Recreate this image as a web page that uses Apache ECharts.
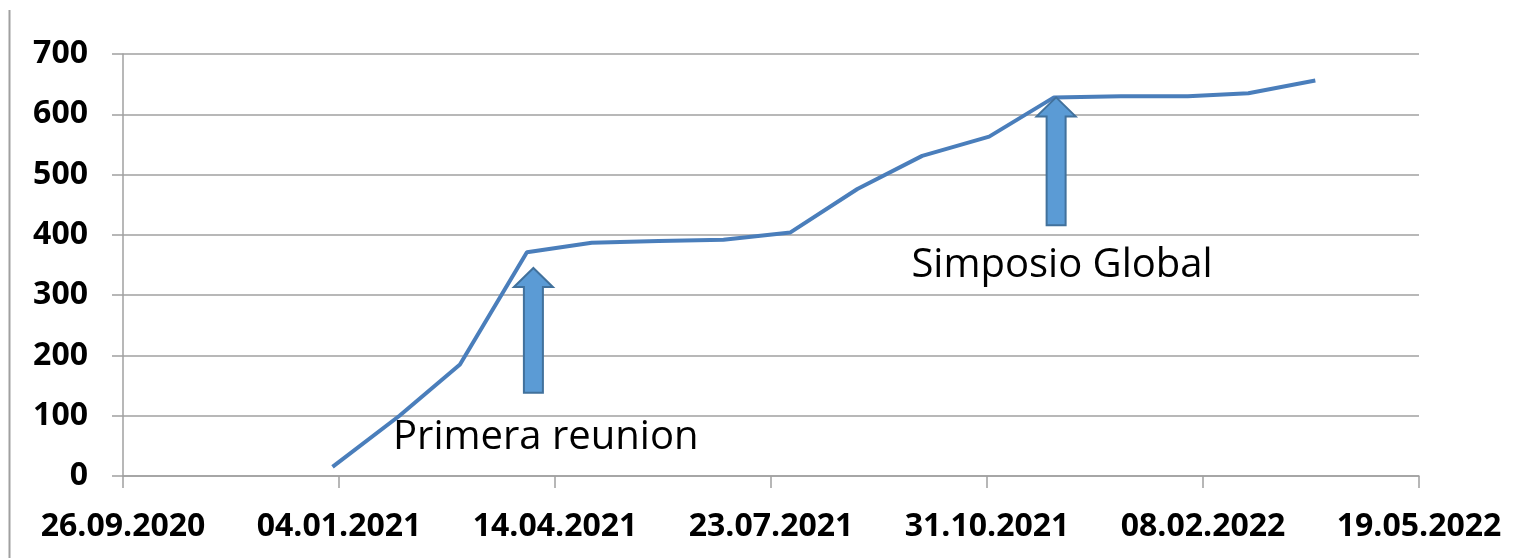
<!DOCTYPE html>
<html>
<head>
<meta charset="utf-8">
<script src="https://cdn.jsdelivr.net/npm/echarts@6/dist/echarts.min.js"></script>
<style>
html,body{margin:0;padding:0;background:#fff;}
#chart{width:1516px;height:558px;}
</style>
</head>
<body>
<div id="chart"></div>
<script>
// ---- data ----
const axisStart = '2020-09-26';
const axisEnd = '2022-05-19';
const tickStepDays = 100;
const dates = ['2021-01-01','2021-02-01','2021-03-01','2021-04-01','2021-05-01','2021-06-01',
  '2021-07-01','2021-08-01','2021-09-01','2021-10-01','2021-11-01','2021-12-01',
  '2022-01-01','2022-02-01','2022-03-01','2022-04-01'];
const values = [15,100,185,371,387,390,392,404,476,531,563,628,630,630,635,656];
const yMin = 0, yMax = 700, yStep = 100;
// annotations (data coordinates)
const noteTexts = ['Primera reunion','Simposio Global'];
const noteDates = ['2021-01-29','2021-09-26'];
const noteValues = [63,349];
const arrowDates = ['2021-04-04','2021-12-02'];
const arrowTipValues = [345,628];
const arrowBaseValues = [138,416];

// ---- helpers ----
const DAY = 86400000;
function toUTC(s){const p=s.split('-').map(Number);return Date.UTC(p[0],p[1]-1,p[2]);}
const t0 = toUTC(axisStart);
function dayOff(s){return Math.round((toUTC(s)-t0)/DAY);}
function fmt(v){const d=new Date(t0+v*DAY);const dd=String(d.getUTCDate()).padStart(2,'0');const mm=String(d.getUTCMonth()+1).padStart(2,'0');return dd+'.'+mm+'.'+d.getUTCFullYear();}

const chart = echarts.init(document.getElementById('chart'), null, {renderer:'canvas'});
const gray = '#A0A0A0';
const labelFont = {color:'#000', fontFamily:'Open Sans', fontWeight:'bold', fontSize:32};
chart.setOption({
  animation:false,
  backgroundColor:'#fff',
  grid:{left:123,right:97,top:54,bottom:82,containLabel:false},
  xAxis:{
    type:'value', min:0, max:dayOff(axisEnd), interval:tickStepDays,
    axisLine:{show:true,lineStyle:{color:gray,width:1.5}},
    axisTick:{show:true,length:12,lineStyle:{color:gray,width:1.5}},
    splitLine:{show:false},
    axisLabel:Object.assign({margin:35,formatter:fmt,showMaxLabel:true,showMinLabel:true},labelFont)
  },
  yAxis:{
    type:'value', min:yMin, max:yMax, interval:yStep,
    axisLine:{show:true,lineStyle:{color:gray,width:1.5}},
    axisTick:{show:true,length:11,lineStyle:{color:gray,width:1.5}},
    splitLine:{show:true,lineStyle:{color:gray,width:1.5}},
    axisLabel:Object.assign({margin:35},labelFont)
  },
  series:[{
    type:'line',
    data:dates.map((d,i)=>[dayOff(d),values[i]]),
    symbol:'none',
    lineStyle:{color:'#4A7EBB',width:4},
    z:3
  }]
});

// annotations via the chart's scales
const g = [{
  type:'line', shape:{x1:9.5,y1:10,x2:9.5,y2:558}, style:{stroke:gray,lineWidth:2}
}];
arrowDates.forEach((d,i)=>{
  const tip = chart.convertToPixel({gridIndex:0},[dayOff(d),arrowTipValues[i]]);
  const base = chart.convertToPixel({gridIndex:0},[dayOff(d),arrowBaseValues[i]]);
  const cx = tip[0], hw = 19.5, sw = 9.5, hh = 19;
  g.push({type:'polygon', z:10, shape:{points:[
    [cx,tip[1]],[cx+hw,tip[1]+hh],[cx+sw,tip[1]+hh],[cx+sw,base[1]],
    [cx-sw,base[1]],[cx-sw,tip[1]+hh],[cx-hw,tip[1]+hh]]},
    style:{fill:'#5B9BD5',stroke:'#41719C',lineWidth:2}});
});
noteTexts.forEach((t,i)=>{
  const p = chart.convertToPixel({gridIndex:0},[dayOff(noteDates[i]),noteValues[i]]);
  g.push({type:'text', z:10, x:p[0], y:p[1], style:{text:t, fill:'#000',
    font:'40px "Open Sans"', textAlign:'left', textVerticalAlign:'middle'}});
});
chart.setOption({graphic:g});
</script>
</body>
</html>
